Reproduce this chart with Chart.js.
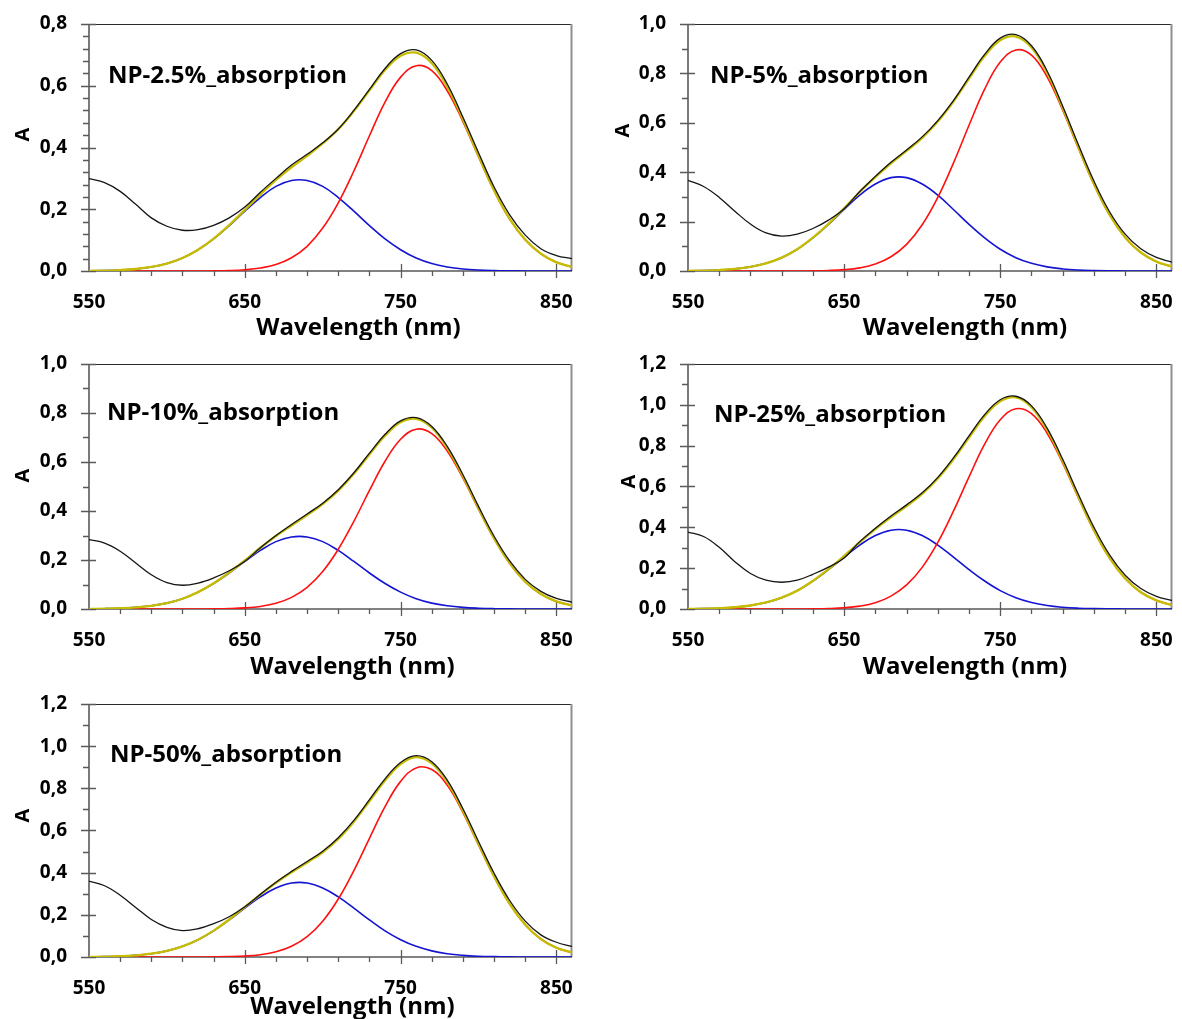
<!DOCTYPE html>
<html>
<head>
<meta charset="utf-8">
<title>NP absorption deconvolution</title>
<script src="https://cdn.jsdelivr.net/npm/chart.js@4.4.1/dist/chart.umd.min.js"></script>
<style>
  html, body { margin: 0; padding: 0; background: #fff; }
  #page { position: relative; width: 1182px; height: 1019px; overflow: hidden; }
  #page canvas { position: absolute; }
</style>
</head>
<body>
<div id="page">
  <canvas id="c1" width="590" height="340" style="left:0;top:0"></canvas>
  <canvas id="c2" width="582" height="340" style="left:600px;top:0"></canvas>
  <canvas id="c3" width="590" height="340" style="left:0;top:340px"></canvas>
  <canvas id="c4" width="582" height="340" style="left:600px;top:340px"></canvas>
  <canvas id="c5" width="590" height="339" style="left:0;top:680px"></canvas>
</div>
<script>
// wavelength grid (nm), shared by every panel
const wavelengths = [550,560,570,580,590,600,610,620,630,640,650,660,670,680,690,700,
                     710,720,730,740,750,760,770,780,790,800,810,820,830,840,850,860];
const xTickLabels = [550, 650, 750, 850];
const yTicks08 = [0, 0.2, 0.4, 0.6, 0.8];
const yTicks10 = [0, 0.2, 0.4, 0.6, 0.8, 1.0];
const yTicks12 = [0, 0.2, 0.4, 0.6, 0.8, 1.0, 1.2];

// NP-2.5%
const np2_5_measured = [0.299,0.286,0.258,0.216,0.172,0.145,0.132,0.134,0.148,0.172,0.207,0.255,0.300,0.343,0.378,0.415,
                        0.460,0.520,0.588,0.656,0.704,0.716,0.682,0.605,0.498,0.383,0.272,0.182,0.116,0.072,0.050,0.040];
const np2_5_fit      = [0.0005,0.0013,0.003,0.0065,0.013,0.024,0.042,0.069,0.105,0.149,0.198,0.248,0.295,0.336,0.373,0.413,
                        0.459,0.518,0.585,0.651,0.697,0.707,0.673,0.596,0.491,0.373,0.261,0.169,0.101,0.056,0.028,0.013];
const np2_5_band2    = [0,0,0,0,0,0,0,0,0.0005,0.0015,0.004,0.0095,0.021,0.043,0.080,0.139,
                        0.221,0.324,0.438,0.547,0.628,0.665,0.649,0.583,0.484,0.370,0.260,0.168,0.101,0.056,0.028,0.013];
const np2_5_band1    = [0.0005,0.0013,0.003,0.0065,0.013,0.024,0.042,0.069,0.104,0.147,0.194,0.238,0.274,0.293,0.293,0.274,
                        0.238,0.194,0.147,0.104,0.069,0.042,0.024,0.013,0.0065,0.003,0.0013,0.0005,0.0002,0,0,0];

// NP-5%
const np5_measured = [0.367,0.342,0.298,0.242,0.190,0.154,0.141,0.149,0.172,0.206,0.252,0.322,0.383,0.440,0.490,0.543,
                      0.609,0.690,0.785,0.877,0.943,0.957,0.912,0.810,0.667,0.512,0.364,0.240,0.149,0.090,0.055,0.036];
const np5_fit      = [0.0007,0.0017,0.0039,0.0084,0.0167,0.031,0.054,0.088,0.135,0.191,0.254,0.320,0.380,0.436,0.486,0.539,
                      0.605,0.686,0.779,0.870,0.934,0.949,0.905,0.803,0.659,0.502,0.353,0.228,0.136,0.075,0.038,0.018];
const np5_band2    = [0,0,0,0,0,0,0,0,0.0007,0.0021,0.0054,0.0128,0.0283,0.0577,0.108,0.187,
                      0.298,0.437,0.590,0.736,0.846,0.895,0.874,0.786,0.651,0.498,0.351,0.227,0.136,0.075,0.038,0.018];
const np5_band1    = [0.0007,0.0017,0.0039,0.0084,0.0167,0.031,0.054,0.088,0.134,0.189,0.249,0.307,0.352,0.378,0.378,0.352,
                      0.307,0.249,0.189,0.134,0.088,0.054,0.031,0.0167,0.0084,0.0039,0.0017,0.0007,0.0003,0,0,0];

// NP-10%
const np10_measured = [0.283,0.269,0.236,0.188,0.140,0.108,0.097,0.106,0.127,0.156,0.195,0.250,0.300,0.345,0.388,0.432,
                       0.487,0.556,0.636,0.713,0.768,0.781,0.745,0.663,0.548,0.419,0.297,0.196,0.121,0.072,0.043,0.028];
const np10_fit      = [0.0005,0.0013,0.0031,0.0065,0.013,0.024,0.042,0.069,0.105,0.149,0.198,0.250,0.298,0.341,0.383,0.428,
                       0.483,0.552,0.631,0.707,0.762,0.776,0.740,0.657,0.541,0.411,0.288,0.187,0.111,0.061,0.031,0.015];
const np10_band2    = [0,0,0,0,0,0,0,0,0.0006,0.0017,0.0044,0.0105,0.0232,0.0473,0.0886,0.153,
                       0.244,0.358,0.484,0.603,0.693,0.734,0.716,0.644,0.534,0.408,0.287,0.186,0.111,0.061,0.031,0.015];
const np10_band1    = [0.0005,0.0013,0.0031,0.0065,0.013,0.024,0.042,0.069,0.104,0.147,0.194,0.239,0.275,0.294,0.294,0.275,
                       0.239,0.194,0.147,0.104,0.069,0.042,0.024,0.013,0.0065,0.0031,0.0013,0.0005,0.0002,0,0,0];

// NP-25%
const np25_measured = [0.377,0.355,0.302,0.232,0.174,0.141,0.131,0.141,0.170,0.205,0.250,0.330,0.395,0.455,0.510,0.569,
                       0.645,0.740,0.848,0.952,1.025,1.042,0.995,0.886,0.733,0.562,0.400,0.265,0.165,0.100,0.062,0.042];
const np25_fit      = [0.0007,0.0017,0.004,0.0086,0.0171,0.032,0.0555,0.090,0.138,0.195,0.260,0.327,0.391,0.449,0.504,0.564,
                       0.639,0.733,0.840,0.944,1.017,1.037,0.989,0.878,0.723,0.550,0.386,0.250,0.149,0.082,0.042,0.019];
const np25_band2    = [0,0,0,0,0,0,0,0,0.0008,0.0023,0.0059,0.0141,0.031,0.0632,0.118,0.204,
                       0.326,0.479,0.647,0.807,0.927,0.981,0.957,0.861,0.714,0.546,0.384,0.249,0.149,0.082,0.042,0.019];
const np25_band1    = [0.0007,0.0017,0.004,0.0086,0.0171,0.032,0.0555,0.090,0.137,0.193,0.254,0.313,0.360,0.386,0.386,0.360,
                       0.313,0.254,0.193,0.137,0.090,0.0555,0.032,0.0171,0.0086,0.004,0.0017,0.0007,0.0003,0,0,0];

// NP-50%
const np50_measured = [0.360,0.338,0.293,0.235,0.178,0.141,0.125,0.134,0.158,0.191,0.238,0.297,0.355,0.406,0.453,0.502,
                       0.566,0.648,0.746,0.845,0.923,0.955,0.926,0.838,0.703,0.548,0.397,0.268,0.170,0.105,0.070,0.050];
const np50_fit      = [0.0006,0.0016,0.0036,0.0078,0.0155,0.029,0.0505,0.082,0.125,0.178,0.237,0.296,0.352,0.402,0.448,0.497,
                       0.560,0.642,0.739,0.837,0.915,0.948,0.918,0.830,0.693,0.536,0.383,0.252,0.153,0.085,0.044,0.021];
const np50_band2    = [0,0,0,0,0,0,0,0,0.0006,0.0017,0.0045,0.0109,0.0245,0.0507,0.0966,0.170,
                       0.275,0.410,0.563,0.713,0.833,0.897,0.889,0.814,0.685,0.532,0.381,0.251,0.153,0.0854,0.0442,0.0209];
const np50_band1    = [0.0006,0.0016,0.0036,0.0078,0.0155,0.029,0.0505,0.082,0.124,0.176,0.232,0.285,0.327,0.351,0.351,0.327,
                       0.285,0.232,0.176,0.124,0.082,0.0505,0.029,0.0155,0.0078,0.0036,0.0016,0.0006,0.0002,0,0,0];

const panels = [
  { id: 'c1', name: 'NP-2.5%_absorption', measured: np2_5_measured, fit: np2_5_fit, band1: np2_5_band1, band2: np2_5_band2, yTicks: yTicks08, yMinor: 0.04 },
  { id: 'c2', name: 'NP-5%_absorption',   measured: np5_measured,   fit: np5_fit,   band1: np5_band1,   band2: np5_band2,   yTicks: yTicks10, yMinor: 0.1 },
  { id: 'c3', name: 'NP-10%_absorption',  measured: np10_measured,  fit: np10_fit,  band1: np10_band1,  band2: np10_band2,  yTicks: yTicks10, yMinor: 0.1 },
  { id: 'c4', name: 'NP-25%_absorption',  measured: np25_measured,  fit: np25_fit,  band1: np25_band1,  band2: np25_band2,  yTicks: yTicks12, yMinor: 0.1 },
  { id: 'c5', name: 'NP-50%_absorption',  measured: np50_measured,  fit: np50_fit,  band1: np50_band1,  band2: np50_band2,  yTicks: yTicks12, yMinor: 0.1 }
];

// plot box inside each canvas: left, top, right, bottom; plus text offsets
const layoutBoxes = [
  { area: [89, 24, 572, 271], label: [19, 50], xTitle: [28, 55], yTitle: [-67, -13] },
  { area: [88, 24, 572, 271], label: [22, 50], xTitle: [35, 55], yTitle: [-66, -17] },
  { area: [89, 24, 572, 269], label: [18, 47], xTitle: [22, 56], yTitle: [-67, -11] },
  { area: [88, 24, 572, 269], label: [26, 49], xTitle: [35, 56], yTitle: [-60, -5] },
  { area: [89, 24, 572, 277], label: [21, 49], xTitle: [22, 48], yTitle: [-67, -15] }
];

const FONT = "'Open Sans', 'DejaVu Sans', sans-serif";
const pt = arr => arr.map((v, i) => ({ x: wavelengths[i], y: v }));
const comma = v => v.toFixed(1).replace('.', ',');

// axes frame, major/minor tick marks, panel texts
const frame = {
  id: 'frame',
  beforeDatasetsDraw(chart, args, o) {
    const { ctx, chartArea: a } = chart;
    const x = chart.scales.x, y = chart.scales.y;
    ctx.save();
    ctx.lineWidth = 1.2; ctx.strokeStyle = '#2b2b2b';
    ctx.beginPath(); ctx.moveTo(a.left, a.top + 0.5); ctx.lineTo(a.right, a.top + 0.5); ctx.stroke();
    ctx.lineWidth = 2; ctx.strokeStyle = '#8f8f8f';
    ctx.beginPath(); ctx.moveTo(a.right - 0.5, a.top); ctx.lineTo(a.right - 0.5, a.bottom); ctx.stroke();
    ctx.lineWidth = 1.6; ctx.strokeStyle = '#5a5a5a';
    ctx.beginPath(); ctx.moveTo(a.left, a.top); ctx.lineTo(a.left, a.bottom); ctx.lineTo(a.right, a.bottom); ctx.stroke();

    ctx.lineWidth = 1.3;
    ctx.beginPath();
    for (let v = 570; v <= 850; v += 20) {
      const px = Math.round(x.getPixelForValue(v)) + 0.5;
      const major = xTickLabels.includes(v);
      ctx.moveTo(px, a.bottom + (major ? 7 : 5));
      ctx.lineTo(px, major ? a.bottom - 7 : a.bottom);
    }
    const n = Math.round(y.max / o.yMinor);
    const every = Math.round(0.2 / o.yMinor);
    for (let i = 0; i <= n; i++) {
      const py = Math.round(y.getPixelForValue(i * o.yMinor)) + 0.5;
      const major = i % every === 0;
      ctx.moveTo(a.left - (major ? 8 : 6), py);
      ctx.lineTo(major ? a.left + 7 : a.left, py);
    }
    ctx.stroke();
    ctx.restore();
  },
  afterDraw(chart, args, o) {
    const { ctx, chartArea: a } = chart;
    ctx.save();
    ctx.fillStyle = '#000';
    ctx.textBaseline = 'alphabetic';
    ctx.textAlign = 'left';
    ctx.font = 'bold 24px ' + FONT;
    ctx.fillText(o.name, a.left + o.label[0], a.top + o.label[1] + 8.5);
    ctx.textAlign = 'center';
    ctx.fillText('Wavelength (nm)', (a.left + a.right) / 2 + o.xTitle[0], a.bottom + o.xTitle[1] + 8.5);
    ctx.font = 'bold 20px ' + FONT;
    ctx.translate(a.left + o.yTitle[0] + 7, (a.top + a.bottom) / 2 + o.yTitle[1]);
    ctx.rotate(-Math.PI / 2);
    ctx.fillText('A', 0, 0);
    ctx.restore();
  }
};

panels.forEach((p, k) => {
  const box = layoutBoxes[k];
  const canvas = document.getElementById(p.id);
  const W = canvas.width, H = canvas.height;
  const [aL, aT, aR, aB] = box.area;
  const line = (data, color, width) => ({
    data: pt(data), borderColor: color, borderWidth: width,
    pointRadius: 0, fill: false, tension: 0.4
  });

  new Chart(canvas, {
    type: 'line',
    data: {
      datasets: [
        line(p.measured, '#151515', 1.3),
        line(p.fit, '#c6bd00', 2.3),
        line(p.band2, '#ff1010', 1.6),
        line(p.band1, '#1414d2', 1.6)
      ]
    },
    options: {
      responsive: false,
      animation: false,
      layout: { padding: { left: 0, top: aT, right: W - aR, bottom: 0 } },
      plugins: {
        legend: { display: false },
        tooltip: { enabled: false },
        frame: { name: p.name, yMinor: p.yMinor, label: box.label, xTitle: box.xTitle, yTitle: box.yTitle }
      },
      scales: {
        x: {
          type: 'linear', min: 550, max: 860,
          grid: { display: false, drawTicks: true, tickLength: 14 },
          border: { display: false },
          afterBuildTicks: s => { s.ticks = xTickLabels.map(v => ({ value: v })); },
          afterFit: s => { s.height = H - aB; },
          ticks: { color: '#000', padding: 6, maxRotation: 0, autoSkip: false,
                   font: { family: FONT, size: 19, weight: 'bold' },
                   callback: v => String(v) }
        },
        y: {
          min: 0, max: p.yTicks[p.yTicks.length - 1],
          grid: { display: false, drawTicks: true, tickLength: 16 },
          border: { display: false },
          afterBuildTicks: s => { s.ticks = p.yTicks.map(v => ({ value: v })); },
          afterFit: s => { s.width = aL; },
          ticks: { color: '#000', padding: 6, autoSkip: false,
                   font: { family: FONT, size: 19, weight: 'bold' },
                   callback: v => comma(v) }
        }
      }
    },
    plugins: [frame]
  });
});
</script>
</body>
</html>
